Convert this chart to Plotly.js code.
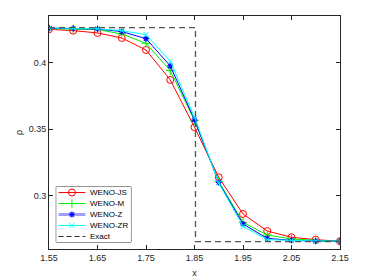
<!DOCTYPE html>
<html><head><meta charset="utf-8">
<script src="https://cdn.plot.ly/plotly-3.0.1.min.js"></script>
<style>html,body{margin:0;padding:0;background:#fff}#c{width:374px;height:280px}</style>
</head><body><div id="c"></div>
<script>
const xs = [1.55,1.60,1.65,1.70,1.75,1.80,1.85,1.90,1.95,2.00,2.05,2.10,2.15];
const wenoJS = [0.4250,0.4240,0.4223,0.4185,0.4095,0.3870,0.3515,0.3138,0.2863,0.2735,0.2688,0.2670,0.2658];
const wenoM  = [0.4255,0.4253,0.4248,0.4215,0.4145,0.3940,0.3565,0.3108,0.2800,0.2705,0.2675,0.2665,0.2658];
const wenoZ  = [0.4258,0.4256,0.4252,0.4233,0.4180,0.3975,0.3570,0.3100,0.2788,0.2680,0.2665,0.2660,0.2658];
const wenoZR = [0.4260,0.4257,0.4254,0.4240,0.4210,0.4010,0.3590,0.3095,0.2770,0.2670,0.2663,0.2660,0.2658];
const exactX = [1.55,1.852,1.852,2.15];
const exactY = [0.4263,0.4263,0.2656,0.2656];
const tickVals = [1.55,1.65,1.75,1.85,1.95,2.05,2.15];
const yTicks = [0.3,0.35,0.4];
const seriesNames = ['WENO-JS','WENO-M','WENO-Z','WENO-ZR','Exact'];

const FONT = 'Liberation Sans, Arial, sans-serif';
const styles = [
 {line:{color:'#ff0000',width:1},marker:{symbol:'circle-open',size:7,color:'#ff0000',line:{width:1,color:'#ff0000'}}},
 {line:{color:'#00ee00',width:1},marker:{symbol:'cross-thin-open',size:6,color:'#00ee00',line:{width:1,color:'#00ee00'}}},
 {line:{color:'#0000ff',width:1},marker:{symbol:'asterisk-open',size:5,color:'#0000ff',line:{width:1.2,color:'#0000ff'}}},
 {line:{color:'#00ffff',width:1},marker:{symbol:'x-thin-open',size:5,color:'#00ffff',line:{width:1,color:'#00ffff'}}},
 {line:{color:'#555555',width:1.3,dash:'6px,4px'}}
];
const ys = [wenoJS,wenoM,wenoZ,wenoZR];
const traces = [];
ys.forEach((y,i)=>traces.push(Object.assign({x:xs,y:y,name:seriesNames[i],mode:'lines+markers',xaxis:'x',yaxis:'y'},styles[i])));
traces.push(Object.assign({x:exactX,y:exactY,name:seriesNames[4],mode:'lines',xaxis:'x',yaxis:'y'},styles[4]));

// custom compact legend drawn on a hidden helper axis pair
const annotations = [];
seriesNames.forEach((nm,i)=>{
  const yc = 4.5 - i;
  const st = JSON.parse(JSON.stringify(styles[i]));
  if(i===2){ st.line = {color:'rgba(80,80,255,0.55)',width:3}; }
  if(i===4){ st.line.width = 1; st.line.dash = '5px,3px'; st.line.color='#333333'; }
  traces.push(Object.assign({x:[0.03,0.39],y:[yc,yc],mode:'lines',xaxis:'x2',yaxis:'y2',hoverinfo:'skip'},{line:st.line}));
  if(st.marker) traces.push({x:[0.21],y:[yc],mode:'markers',xaxis:'x2',yaxis:'y2',marker:st.marker,hoverinfo:'skip'});
  annotations.push({xref:'x2',yref:'y2',x:0.43,y:yc,text:nm,showarrow:false,xanchor:'left',yanchor:'middle',font:{family:FONT,size:8,color:'#000'}});
});

const axisCommon = {showgrid:false,zeroline:false,showline:true,linecolor:'#262626',linewidth:1,mirror:'allticks',ticks:'inside',ticklen:4,tickcolor:'#262626',tickfont:{family:FONT,size:9,color:'#262626'}};
const layout = {
 width:374,height:280,margin:{l:48.7,r:34,t:16,b:31},
 paper_bgcolor:'#fff',plot_bgcolor:'#fff',showlegend:false,
 xaxis:Object.assign({},axisCommon,{domain:[0,1],range:[1.55,2.15],tickvals:tickVals,ticktext:tickVals.map(v=>v.toFixed(2)),title:{text:'x',font:{family:FONT,size:9,color:'#262626'},standoff:7}}),
 yaxis:Object.assign({},axisCommon,{domain:[0,1],range:[0.26,0.435],tickvals:yTicks,ticktext:['0.3','0.35','0.4'],title:{text:'ρ',font:{family:FONT,size:9,color:'#262626'},standoff:4}}),
 xaxis2:{domain:[0.025,0.2815],range:[0,1],visible:false,anchor:'y2',fixedrange:true},
 yaxis2:{domain:[0.030,0.266],range:[0,5],visible:false,anchor:'x2',fixedrange:true},
 shapes:[{type:'rect',xref:'paper',yref:'paper',x0:0.025,x1:0.2815,y0:0.030,y1:0.266,line:{color:'#262626',width:1},fillcolor:'#ffffff',layer:'below'}],
 annotations:annotations
};
Plotly.newPlot('c',traces,layout,{staticPlot:true,displayModeBar:false});
</script></body></html>
